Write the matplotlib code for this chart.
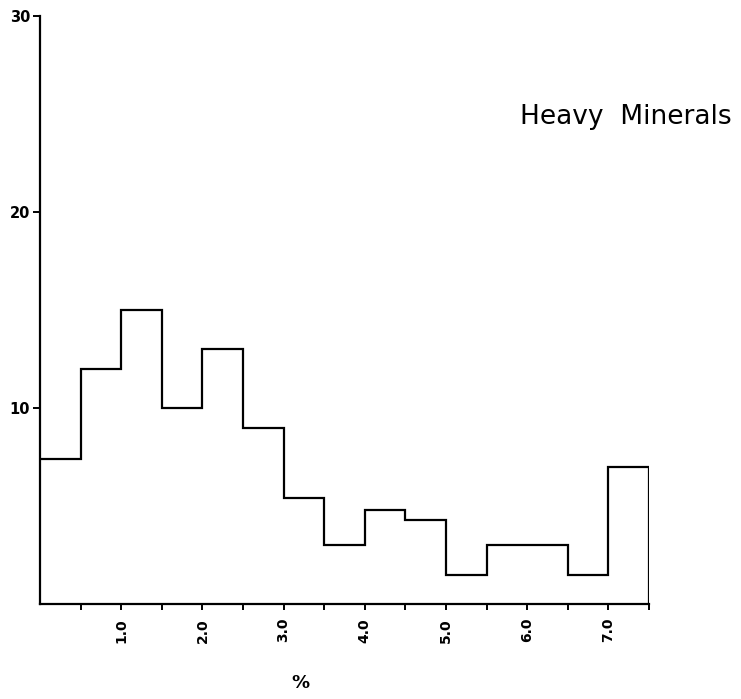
import matplotlib
matplotlib.use("Agg")
import matplotlib.pyplot as plt
import numpy as np

bin_edges = [0.0, 0.5, 1.0, 1.5, 2.0, 2.5, 3.0, 3.5, 4.0, 4.5, 5.0, 5.5, 6.0, 6.5, 7.0, 7.5]
counts = [7.4, 12.0, 15.0, 10.0, 13.0, 9.0, 5.4, 3.0, 4.8, 4.3, 1.5, 3.0, 3.0, 1.5, 7.0]
x_ticks = [1.0, 2.0, 3.0, 4.0, 5.0, 6.0, 7.0]
x_ticklabels = ["1.0", "2.0", "3.0", "4.0", "5.0", "6.0", "7.0"]
y_ticks = [10, 20, 30]
y_ticklabels = ["10", "20", "30"]
title = "Heavy  Minerals"
xlabel = "%"

fig = plt.figure(figsize=(7.41, 6.99), dpi=100)
W, H = 741, 699
ax = fig.add_axes([40 / W, (H - 604) / H, (649 - 40) / W, (604 - 16) / H])

ax.stairs(counts, bin_edges, color="black", linewidth=1.6, baseline=None)
ax.vlines([bin_edges[-1]], 0, counts[-1], color="black", linewidth=1.6)

ax.set_xlim(bin_edges[0], bin_edges[-1])
ax.set_ylim(0, 30)
for s in ["top", "right"]:
    ax.spines[s].set_visible(False)
for s in ["left", "bottom"]:
    ax.spines[s].set_linewidth(1.6)

ax.set_xticks(x_ticks)
ax.set_xticklabels(x_ticklabels, rotation=90, fontsize=10, fontweight="bold")
ax.set_xticks(bin_edges[1:], minor=True)
ax.tick_params(axis="x", which="both", direction="out", length=4, width=1.4, pad=6)
ax.set_yticks(y_ticks)
ax.set_yticklabels(y_ticklabels, fontsize=10.5, fontweight="bold")
ax.tick_params(axis="y", direction="out", length=5, width=1.4, pad=2)

fig.text(300 / W, 1 - 683 / H, xlabel, ha="center", va="center", fontsize=13, fontweight="bold")
fig.text(732 / W, 1 - 117 / H, title, ha="right", va="center", fontsize=19)

fig.savefig("out.png", dpi=100)
